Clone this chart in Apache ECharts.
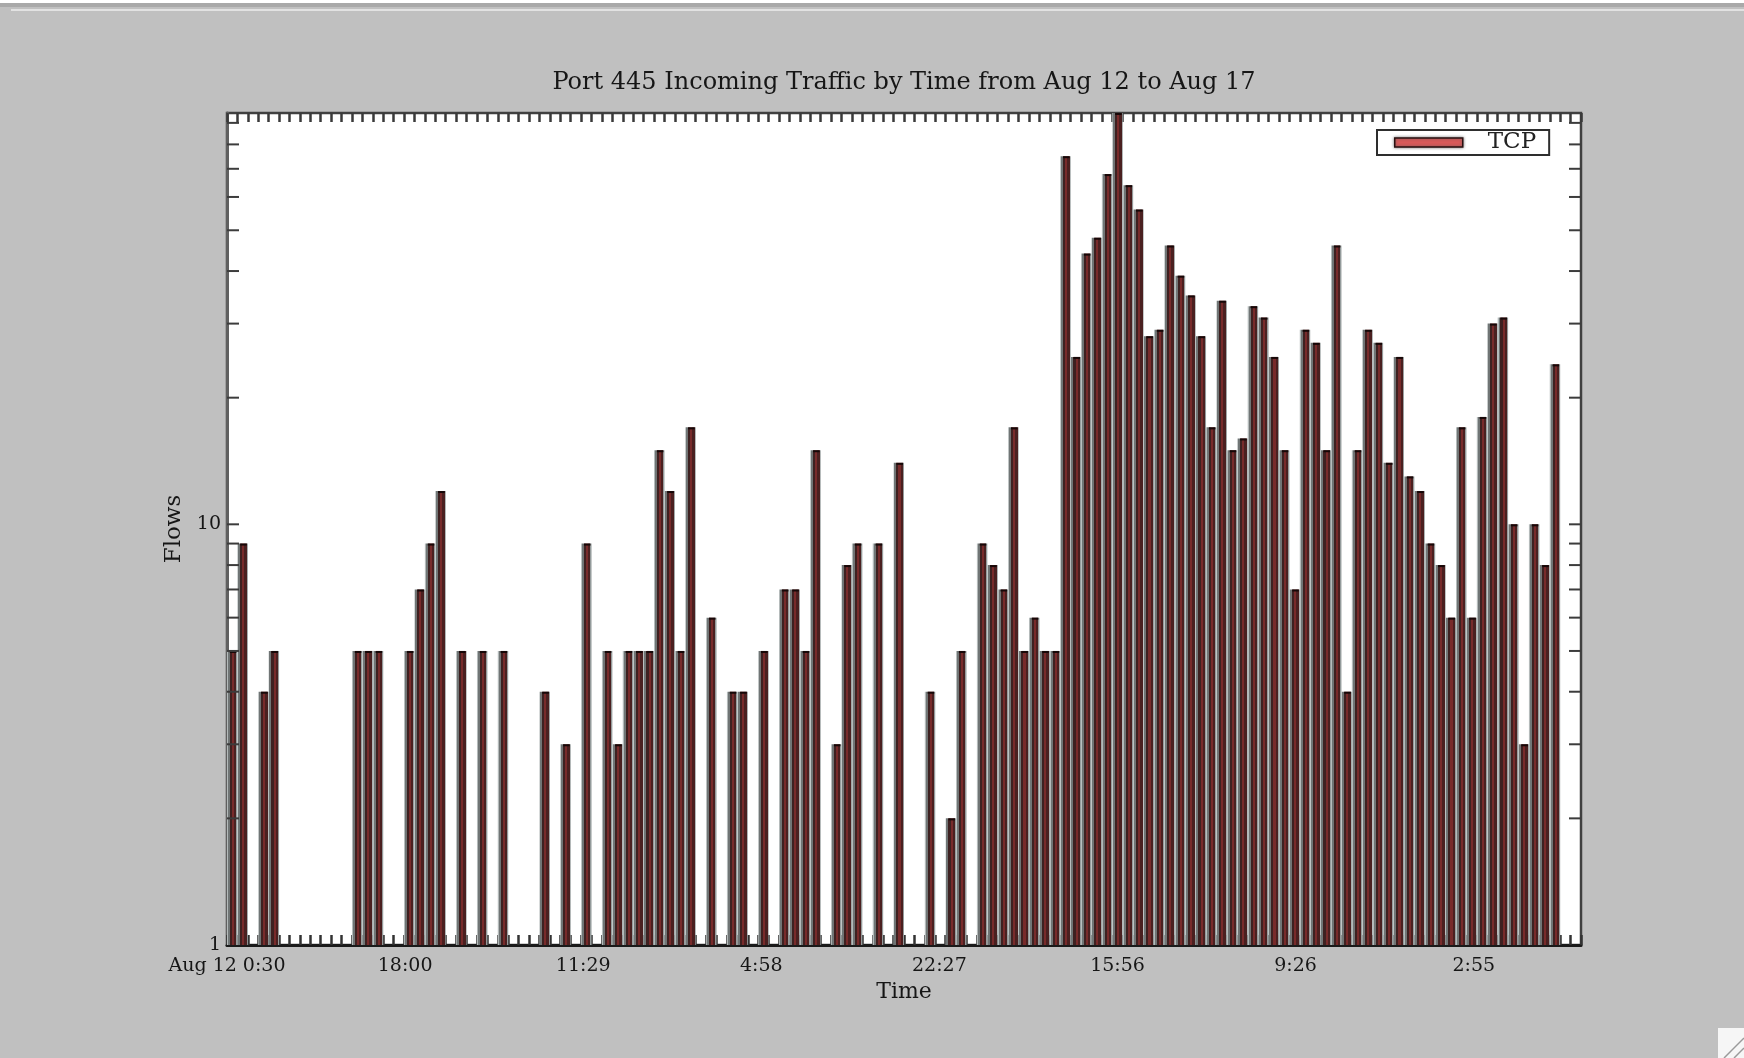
<!DOCTYPE html>
<html>
<head>
<meta charset="utf-8">
<title>Port 445 Incoming Traffic</title>
<script src="https://cdn.jsdelivr.net/npm/echarts@6.0.0/dist/echarts.min.js"></script>
<style>
  html, body { margin: 0; padding: 0; background: #c0c0c0; }
  #chart { width: 1744px; height: 1058px; }
</style>
</head>
<body>
<div id="chart"></div>
<script>
// Hourly-ish bins from Aug 12 0:30 onwards; null = no flows in that bin
const binCount = 130;
const flows = [
  5, 9, null, 4, 5, null, null, null, null, null,
  null, null, 5, 5, 5, null, null, 5, 7, 9,
  12, null, 5, null, 5, null, 5, null, null, null,
  4, null, 3, null, 9, null, 5, 3, 5, 5,
  5, 15, 12, 5, 17, null, 6, null, 4, 4,
  null, 5, null, 7, 7, 5, 15, null, 3, 8,
  9, null, 9, null, 14, null, null, 4, null, 2,
  5, null, 9, 8, 7, 17, 5, 6, 5, 5,
  75, 25, 44, 48, 68, 95, 64, 56, 28, 29,
  46, 39, 35, 28, 17, 34, 15, 16, 33, 31,
  25, 15, 7, 29, 27, 15, 46, 4, 15, 29,
  27, 14, 25, 13, 12, 9, 8, 6, 17, 6,
  18, 30, 31, 10, 3, 10, 8, 24, null, null
];
// Time labels along the x axis, one every labelStep bins
const timeLabels = ['Aug 12 0:30', '18:00', '11:29', '4:58', '22:27', '15:56', '9:26', '2:55'];
const labelStep = 17.1;
// Labelled y values and the smaller log ticks drawn on both sides
const yTickLabels = [1, 10];
const minorTickValues = [2, 3, 4, 5, 6, 7, 8, 9, 10, 20, 30, 40, 50, 60, 70, 80, 90];

const serif = "'DejaVu Serif', serif";
const yMin = 1;
const yMax = Math.max.apply(null, flows.filter(v => v != null));

const barData = [];
flows.forEach((v, i) => { if (v != null) barData.push([i, v]); });

const chart = echarts.init(document.getElementById('chart'), null, { renderer: 'canvas', width: 1744, height: 1058 });

// Horizontal shading of one bar: grey fringe, dark edge, red core, dark edge
const barFill = new echarts.graphic.LinearGradient(0, 0, 1, 0, [
  { offset: 0.00, color: '#b4baba' }, { offset: 0.08, color: '#b4baba' },
  { offset: 0.08, color: '#707575' }, { offset: 0.27, color: '#707575' },
  { offset: 0.27, color: '#3e2121' }, { offset: 0.47, color: '#3e2121' },
  { offset: 0.47, color: '#782b2b' }, { offset: 0.67, color: '#782b2b' },
  { offset: 0.67, color: '#4a2020' }, { offset: 0.90, color: '#4a2020' },
  { offset: 0.90, color: '#949b9b' }, { offset: 1.00, color: '#949b9b' }
]);

const option = {
  animation: false,
  backgroundColor: '#c0c0c0',
  title: {
    text: 'Port 445 Incoming Traffic by Time from Aug 12 to Aug 17',
    left: 904, top: 71, textAlign: 'center', padding: 0,
    textStyle: { fontFamily: serif, fontSize: 24, fontWeight: 'normal', color: '#161616' }
  },
  legend: {
    data: [{ name: 'TCP', icon: 'rect' }],
    left: 1377, top: 130,
    itemWidth: 68, itemHeight: 9,
    padding: [1, 13, 1, 17],
    backgroundColor: '#ffffff',
    borderColor: '#2e2e2e', borderWidth: 2, borderRadius: 0,
    selectedMode: false,
    itemStyle: { color: '#d95a5a', borderColor: '#2a1010', borderWidth: 1.5, shadowColor: 'rgba(90,90,90,0.8)', shadowBlur: 3 },
    textStyle: { fontFamily: serif, fontSize: 23, color: '#222', lineHeight: 21, padding: [0, 0, 0, 20] }
  },
  grid: {
    left: 227, top: 113, width: 1354, height: 832,
    show: true, backgroundColor: '#ffffff',
    borderColor: '#404040', borderWidth: 2.5
  },
  xAxis: [
    {
      type: 'value', position: 'bottom',
      min: 0, max: binCount, interval: labelStep,
      axisLine: { show: true, lineStyle: { color: '#1a1a1a', width: 3 } },
      axisTick: { show: false },
      splitLine: { show: false },
      axisLabel: {
        margin: 12, fontFamily: serif, fontSize: 19, color: '#161616',
        formatter: function (v) {
          const idx = Math.round(v / labelStep);
          if (Math.abs(v - idx * labelStep) < 1e-6 && idx < timeLabels.length) return timeLabels[idx];
          return '';
        }
      },
      name: 'Time', nameLocation: 'middle', nameGap: 33,
      nameTextStyle: { fontFamily: serif, fontSize: 22, color: '#161616' }
    },
    {
      type: 'value', position: 'bottom',
      min: 0, max: binCount, interval: 1,
      axisLine: { show: false },
      axisTick: { show: true, inside: true, length: 10, lineStyle: { color: '#333', width: 2.5 } },
      axisLabel: { show: false },
      splitLine: { show: false }
    },
    {
      type: 'value', position: 'top',
      min: 0, max: binCount, interval: 1,
      axisLine: { show: false },
      axisTick: { show: true, inside: true, length: 9, lineStyle: { color: '#3a3a3a', width: 2.5 } },
      axisLabel: { show: false },
      splitLine: { show: false }
    }
  ],
  yAxis: [
    {
      type: 'log', logBase: 10, min: yMin, max: yMax,
      axisLine: { show: true, lineStyle: { color: '#606060', width: 3 } },
      axisTick: { show: false },
      splitLine: { show: false },
      axisLabel: {
        margin: 6, fontFamily: serif, fontSize: 19, color: '#161616',
        formatter: function (v) {
          for (const t of yTickLabels) { if (Math.abs(v - t) < 1e-6) return String(t); }
          return '';
        }
      },
      name: 'Flows', nameLocation: 'middle', nameGap: 41,
      nameTextStyle: { fontFamily: serif, fontSize: 23, color: '#161616' }
    }
  ],
  series: [
    {
      name: 'TCP', type: 'custom', xAxisIndex: 0, yAxisIndex: 0,
      clip: true, z: 2,
      data: barData,
      renderItem: function (params, api) {
        const k = api.value(0), v = api.value(1);
        const base = api.coord([k, yMin]);
        const top = api.coord([k, v]);
        const w = api.coord([k + 1, yMin])[0] - base[0];
        const h = base[1] - top[1];
        return {
          type: 'group',
          children: [
            { type: 'rect', shape: { x: base[0], y: top[1], width: w, height: h }, style: { fill: barFill } },
            { type: 'rect', shape: { x: base[0] + w * 0.27, y: top[1], width: w * 0.63, height: 2 }, style: { fill: '#160707' } }
          ]
        };
      }
    },
    {
      name: 'yMinorTicks', type: 'custom', xAxisIndex: 1, yAxisIndex: 0,
      silent: true, clip: false, z: 4,
      data: minorTickValues.map(v => [0, v]),
      renderItem: function (params, api) {
        const y = api.coord([0, api.value(1)])[1];
        const cs = params.coordSys;
        const st = { stroke: '#3c3c3c', lineWidth: 2 };
        return {
          type: 'group',
          children: [
            { type: 'line', shape: { x1: cs.x, y1: y, x2: cs.x + 12, y2: y }, style: st },
            { type: 'line', shape: { x1: cs.x + cs.width - 12, y1: y, x2: cs.x + cs.width, y2: y }, style: st }
          ]
        };
      }
    }
  ],
  graphic: [
    { type: 'rect', left: 0, top: 0, shape: { width: 1744, height: 3 }, style: { fill: '#ffffff' }, silent: true },
    { type: 'rect', left: 0, top: 3, shape: { width: 1744, height: 4 }, style: { fill: '#a9a9a9' }, silent: true },
    { type: 'rect', left: 11, top: 9, shape: { width: 1733, height: 2 }, style: { fill: '#e2e2e2' }, silent: true },
    {
      type: 'group', left: 1718, top: 1028, silent: true,
      children: [
        { type: 'rect', shape: { x: 0, y: 0, width: 26, height: 30 }, style: { fill: '#f6f6f6' } },
        { type: 'line', shape: { x1: 6, y1: 30, x2: 26, y2: 10 }, style: { stroke: '#9a9a9a', lineWidth: 1.5 } },
        { type: 'line', shape: { x1: 16, y1: 30, x2: 26, y2: 20 }, style: { stroke: '#9a9a9a', lineWidth: 1.5 } }
      ]
    }
  ]
};

chart.setOption(option);
</script>
</body>
</html>
